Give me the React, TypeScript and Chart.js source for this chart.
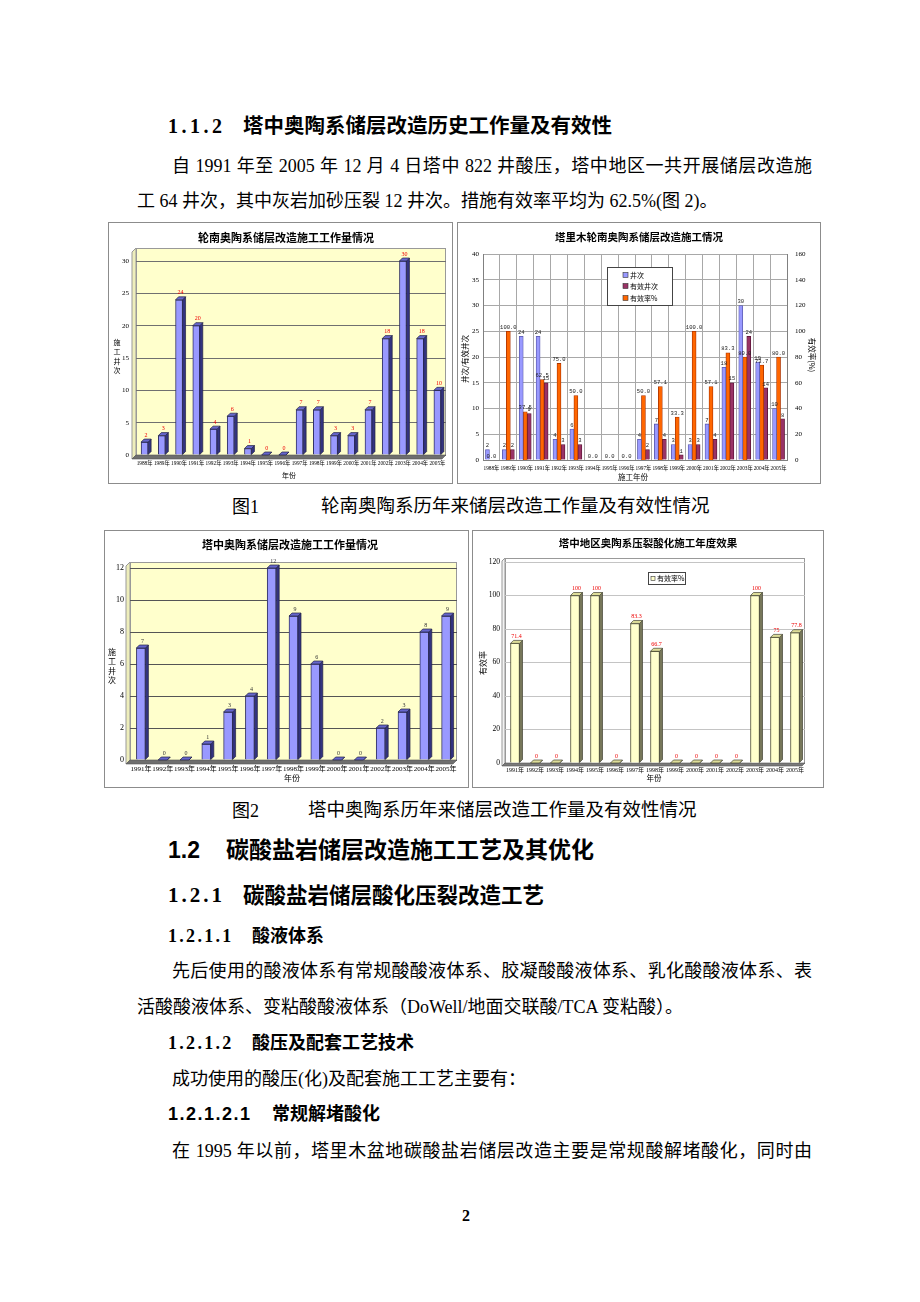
import React, { useEffect, useRef } from "react";
import { Chart, registerables } from "chart.js";

Chart.register(...registerables);

const SERIF = '"Liberation Serif", "Noto Sans CJK SC", serif';
const CJK = '"Noto Sans CJK SC", sans-serif';
const SANS = '"Liberation Sans", "Noto Sans CJK SC", sans-serif';
const MONO = '"Liberation Mono", "DejaVu Sans Mono", monospace';

// ---- Fig.1 left: 轮南奥陶系储层改造施工工作量情况
const lunnanYears = ["1988年", "1989年", "1990年", "1991年", "1992年", "1993年", "1994年", "1995年", "1996年", "1997年", "1998年", "1999年", "2000年", "2001年", "2002年", "2003年", "2004年", "2005年"];
const lunnanWells = [2, 3, 24, 20, 4, 6, 1, 0, 0, 7, 7, 3, 3, 7, 18, 30, 18, 10];

// ---- Fig.1 right: 塔里木轮南奥陶系储层改造施工情况
const tlmYears = ["1988年", "1989年", "1990年", "1991年", "1992年", "1993年", "1994年", "1995年", "1996年", "1997年", "1998年", "1999年", "2000年", "2001年", "2002年", "2003年", "2004年", "2005年"];
const tlmWells = [2, 2, 24, 24, 4, 6, 0, 0, 0, 4, 7, 3, 3, 7, 18, 30, 19, 10];
const tlmEffWells = [0, 2, 9, 15, 3, 3, 0, 0, 0, 2, 4, 1, 3, 4, 15, 24, 14, 8];
const tlmEffRate = [0, 100, 37.5, 62.5, 75, 50, 0, 0, 0, 50, 57.1, 33.3, 100, 57.1, 83.3, 80, 73.7, 80];
const tlmSeries = ["井次", "有效井次", "有效率%"];

// ---- Fig.2: 塔中
const tzYears = ["1991年", "1992年", "1993年", "1994年", "1995年", "1996年", "1997年", "1998年", "1999年", "2000年", "2001年", "2002年", "2003年", "2004年", "2005年"];
const tzWells = [7, 0, 0, 1, 3, 4, 12, 9, 6, 0, 0, 2, 3, 8, 9];
const tzEffRate = [71.4, 0, 0, 100, 100, 0, 83.3, 66.7, 0, 0, 0, 0, 100, 75, 77.8];
const tzEffName = "有效率%";

function font(size: number, family: string, bold = false) {
  return `${bold ? "bold " : ""}${size}px ${family}`;
}

function decor(cfg: any) {
  return {
    id: "decor",
    beforeDraw(chart: any) {
      const { ctx, width, height, chartArea: a } = chart;
      ctx.save();
      ctx.fillStyle = "#ffffff";
      ctx.fillRect(0, 0, width, height);
      ctx.strokeStyle = "#8c8c8c";
      ctx.lineWidth = 1;
      ctx.strokeRect(0.5, 0.5, width - 1, height - 1);
      if (cfg.wall) {
        const w = cfg.wall;
        const d = w.depth;
        const L = a.left, R = a.right, T = a.top - w.extraTop, B = a.bottom;
        ctx.fillStyle = w.fill;
        ctx.fillRect(L, T, R - L, B - T);
        ctx.beginPath();
        ctx.moveTo(L, T);
        ctx.lineTo(L - d, T + d);
        ctx.lineTo(L - d, B + d);
        ctx.lineTo(L, B);
        ctx.closePath();
        ctx.fillStyle = w.leftFill;
        ctx.fill();
        ctx.strokeStyle = w.stroke;
        ctx.stroke();
        ctx.strokeRect(Math.round(L) + 0.5, Math.round(T) + 0.5, R - L - 1, B - T);
      }
      ctx.restore();
    },
    beforeDatasetsDraw(chart: any) {
      if (!cfg.wall) return;
      const { ctx, chartArea: a } = chart;
      const d = cfg.wall.depth;
      const L = a.left, R = a.right, B = a.bottom;
      ctx.save();
      ctx.beginPath();
      ctx.moveTo(L, B);
      ctx.lineTo(R, B);
      ctx.lineTo(R - d, B + d);
      ctx.lineTo(L - d, B + d);
      ctx.closePath();
      ctx.fillStyle = cfg.wall.floorFill;
      ctx.fill();
      ctx.strokeStyle = "#555";
      ctx.lineWidth = 0.6;
      ctx.stroke();
      ctx.restore();
    },
    afterDatasetsDraw(chart: any) {
      const { ctx } = chart;
      ctx.save();
      const d3 = cfg.bars3d;
      if (d3) {
        const d = d3.depth;
        chart.data.datasets.forEach((_ds: any, i: number) => {
          const meta = chart.getDatasetMeta(i);
          meta.data.forEach((el: any) => {
            const x = el.x, y = el.y, base = el.base, w = el.width;
            const l = x - w / 2, r = x + w / 2;
            const top = Math.min(y, base);
            ctx.lineWidth = 0.7;
            ctx.strokeStyle = d3.edge;
            ctx.beginPath();
            ctx.moveTo(r, top);
            ctx.lineTo(r + d, top - d);
            ctx.lineTo(r + d, base - d);
            ctx.lineTo(r, base);
            ctx.closePath();
            ctx.fillStyle = d3.side;
            ctx.fill();
            ctx.stroke();
            ctx.beginPath();
            ctx.moveTo(l, top);
            ctx.lineTo(l + d, top - d);
            ctx.lineTo(r + d, top - d);
            ctx.lineTo(r, top);
            ctx.closePath();
            ctx.fillStyle = d3.top;
            ctx.fill();
            ctx.stroke();
          });
        });
      }
      const lb = cfg.labels;
      if (lb) {
        const d = d3 ? d3.depth : 0;
        ctx.font = font(lb.size, lb.family);
        ctx.fillStyle = lb.color;
        ctx.textAlign = "center";
        ctx.textBaseline = "bottom";
        chart.data.datasets.forEach((ds: any, i: number) => {
          const meta = chart.getDatasetMeta(i);
          meta.data.forEach((el: any, j: number) => {
            const txt = lb.fmt(ds.data[j], i);
            if (txt == null) return;
            const top = Math.min(el.y, el.base);
            ctx.fillText(txt, el.x + d / 2, top - d - 1);
          });
        });
      }
      ctx.restore();
    },
    afterDraw(chart: any) {
      const { ctx } = chart;
      ctx.save();
      (cfg.texts || []).forEach((t: any) => {
        ctx.save();
        ctx.translate(t.x, t.y);
        if (t.rot) ctx.rotate((t.rot * Math.PI) / 180);
        ctx.font = font(t.size, t.family || CJK, t.bold);
        ctx.fillStyle = t.color || "#000";
        ctx.textAlign = t.align || "center";
        ctx.textBaseline = "middle";
        ctx.fillText(t.t, 0, 0);
        ctx.restore();
      });
      const lg = cfg.legend;
      if (lg) {
        const [bx, by, bw, bh] = lg.box;
        ctx.fillStyle = "#fff";
        ctx.fillRect(bx, by, bw, bh);
        ctx.strokeStyle = "#444";
        ctx.lineWidth = 1;
        ctx.strokeRect(bx + 0.5, by + 0.5, bw, bh);
        ctx.font = font(lg.size, CJK);
        ctx.textAlign = "left";
        ctx.textBaseline = "middle";
        lg.items.forEach((it: any) => {
          ctx.fillStyle = it.color;
          ctx.fillRect(it.x, it.y - lg.mark / 2, lg.mark, lg.mark);
          ctx.strokeStyle = "#333";
          ctx.lineWidth = 0.6;
          ctx.strokeRect(it.x, it.y - lg.mark / 2, lg.mark, lg.mark);
          ctx.fillStyle = "#000";
          ctx.fillText(it.label, it.x + lg.mark + 2, it.y);
        });
      }
      ctx.restore();
    },
  };
}

const fmtNum = (v: number) => (Number.isInteger(v) ? String(v) : v.toFixed(1));

function makeLunnan(canvas: HTMLCanvasElement) {
  return new Chart(canvas, {
    type: "bar",
    data: {
      labels: lunnanYears,
      datasets: [{ data: lunnanWells, backgroundColor: "#9999ff", borderColor: "#333366", borderWidth: 1, barThickness: 7 }],
    },
    options: {
      responsive: false,
      animation: false,
      devicePixelRatio: 1,
      events: [],
      layout: { padding: { top: 39, right: 7, left: 0, bottom: 0 } },
      plugins: { legend: { display: false }, tooltip: { enabled: false } },
      scales: {
        x: {
          grid: { display: false, drawTicks: false },
          border: { display: false },
          ticks: { autoSkip: false, maxRotation: 0, minRotation: 0, padding: 5, color: "#000", font: { size: 5.3, family: SERIF } },
          afterFit: (s: any) => { s.height = 29; },
        },
        y: {
          min: 0,
          max: 30,
          grid: { color: "#707070", drawTicks: false },
          border: { display: false },
          ticks: { stepSize: 5, padding: 7, color: "#000", font: { size: 7, family: SERIF } },
          afterFit: (s: any) => { s.width = 28; },
        },
      },
    } as any,
    plugins: [
      decor({
        wall: { fill: "#ffffcc", leftFill: "#eeeebb", floorFill: "#6e6e6e", stroke: "#999", depth: 4, extraTop: 13 },
        bars3d: { depth: 3, side: "#333380", top: "#6666cc", edge: "#222244" },
        labels: { size: 6, family: SERIF, color: "#ee0000", fmt: (v: number) => fmtNum(v) },
        texts: [
          { t: "轮南奥陶系储层改造施工工作量情况", x: 178, y: 16, size: 11, bold: true },
          { t: "施", x: 9, y: 120, size: 7 },
          { t: "工", x: 9, y: 129, size: 7 },
          { t: "井", x: 9, y: 139, size: 7 },
          { t: "次", x: 9, y: 148, size: 7 },
          { t: "年份", x: 181, y: 253, size: 7 },
        ],
      }),
    ],
  });
}

function makeTlm(canvas: HTMLCanvasElement) {
  return new Chart(canvas, {
    type: "bar",
    data: {
      labels: tlmYears,
      datasets: [
        { label: tlmSeries[0], data: tlmWells, yAxisID: "y", order: 0, backgroundColor: "#9999ff", borderColor: "#5555aa", borderWidth: 0.8, barThickness: 4 },
        { label: tlmSeries[1], data: tlmEffWells, yAxisID: "y", order: 2, backgroundColor: "#993366", borderColor: "#551133", borderWidth: 0.8, barThickness: 4 },
        { label: tlmSeries[2], data: tlmEffRate, yAxisID: "y1", order: 1, backgroundColor: "#ff6600", borderColor: "#aa3300", borderWidth: 0.8, barThickness: 4 },
      ],
    },
    options: {
      responsive: false,
      animation: false,
      devicePixelRatio: 1,
      events: [],
      layout: { padding: { top: 32, right: 0, left: 0, bottom: 0 } },
      plugins: { legend: { display: false }, tooltip: { enabled: false } },
      scales: {
        x: {
          grid: { color: "#a8a8a8", drawTicks: false, offset: true },
          border: { display: true, color: "#808080" },
          ticks: { autoSkip: false, maxRotation: 0, minRotation: 0, padding: 5, color: "#000", font: { size: 5.3, family: SERIF } },
          afterFit: (s: any) => { s.height = 24; },
        },
        y: {
          position: "left",
          min: 0,
          max: 40,
          grid: { color: "#a8a8a8", drawTicks: false },
          border: { display: true, color: "#808080" },
          ticks: { stepSize: 5, padding: 4, color: "#000", font: { size: 7, family: SERIF } },
          afterFit: (s: any) => { s.width = 26; },
        },
        y1: {
          position: "right",
          min: 0,
          max: 160,
          grid: { display: false, drawTicks: false },
          border: { display: true, color: "#808080" },
          ticks: { stepSize: 20, padding: 8, color: "#000", font: { size: 7, family: SERIF } },
          afterFit: (s: any) => { s.width = 34; },
        },
      },
    } as any,
    plugins: [
      decor({
        labels: {
          size: 5.5,
          family: MONO,
          color: "#222",
          fmt: (v: number, ds: number) => (ds === 2 ? v.toFixed(1) : v === 0 ? null : String(v)),
        },
        texts: [
          { t: "塔里木轮南奥陶系储层改造施工情况", x: 182, y: 15, size: 10.5, bold: true },
          { t: "井次/有效井次", x: 8, y: 137, size: 7.5, rot: -90 },
          { t: "有效率(%)", x: 355, y: 133, size: 7.5, rot: 90 },
          { t: "施工年份", x: 176, y: 255, size: 7.5 },
        ],
        legend: {
          box: [150, 45, 65, 38],
          size: 7,
          mark: 5,
          items: [
            { label: tlmSeries[0], color: "#9999ff", x: 166, y: 53 },
            { label: tlmSeries[1], color: "#993366", x: 166, y: 64 },
            { label: tlmSeries[2], color: "#ff6600", x: 166, y: 76 },
          ],
        },
      }),
    ],
  });
}

function makeTz(canvas: HTMLCanvasElement) {
  return new Chart(canvas, {
    type: "bar",
    data: {
      labels: tzYears,
      datasets: [{ data: tzWells, backgroundColor: "#9999ff", borderColor: "#333366", borderWidth: 1, barThickness: 9 }],
    },
    options: {
      responsive: false,
      animation: false,
      devicePixelRatio: 1,
      events: [],
      layout: { padding: { top: 38, right: 12, left: 0, bottom: 0 } },
      plugins: { legend: { display: false }, tooltip: { enabled: false } },
      scales: {
        x: {
          grid: { display: false, drawTicks: false },
          border: { display: false },
          ticks: { autoSkip: false, maxRotation: 0, minRotation: 0, padding: 5, color: "#000", font: { size: 7, family: SERIF } },
          afterFit: (s: any) => { s.height = 28; },
        },
        y: {
          min: 0,
          max: 12,
          grid: { color: "#555", drawTicks: false },
          border: { display: false },
          ticks: { stepSize: 2, padding: 6, color: "#000", font: { size: 8, family: SERIF } },
          afterFit: (s: any) => { s.width = 26; },
        },
      },
    } as any,
    plugins: [
      decor({
        wall: { fill: "#ffffcc", leftFill: "#eeeebb", floorFill: "#6e6e6e", stroke: "#999", depth: 4, extraTop: 6 },
        bars3d: { depth: 3, side: "#333380", top: "#6666cc", edge: "#222244" },
        labels: { size: 6, family: SERIF, color: "#333", fmt: (v: number) => fmtNum(v) },
        texts: [
          { t: "塔中奥陶系储层改造施工工作量情况", x: 186, y: 15, size: 11, bold: true },
          { t: "施", x: 8, y: 122, size: 8 },
          { t: "工", x: 8, y: 131, size: 8 },
          { t: "井", x: 8, y: 141, size: 8 },
          { t: "次", x: 8, y: 150, size: 8 },
          { t: "年份", x: 188, y: 248, size: 8 },
        ],
      }),
    ],
  });
}

function makeTzEff(canvas: HTMLCanvasElement) {
  return new Chart(canvas, {
    type: "bar",
    data: {
      labels: tzYears,
      datasets: [{ label: tzEffName, data: tzEffRate, backgroundColor: "#ffffcc", borderColor: "#555533", borderWidth: 1, barThickness: 9 }],
    },
    options: {
      responsive: false,
      animation: false,
      devicePixelRatio: 1,
      events: [],
      layout: { padding: { top: 32, right: 19, left: 0, bottom: 0 } },
      plugins: { legend: { display: false }, tooltip: { enabled: false } },
      scales: {
        x: {
          grid: { display: false, drawTicks: false },
          border: { display: false },
          ticks: { autoSkip: false, maxRotation: 0, minRotation: 0, padding: 4, color: "#000", font: { size: 6, family: SERIF } },
          afterFit: (s: any) => { s.height = 25; },
        },
        y: {
          min: 0,
          max: 120,
          grid: { color: "#c4c4c4", drawTicks: false },
          border: { display: false },
          ticks: { stepSize: 20, padding: 5, color: "#000", font: { size: 7.5, family: SERIF } },
          afterFit: (s: any) => { s.width = 33; },
        },
      },
    } as any,
    plugins: [
      decor({
        wall: { fill: "#ffffff", leftFill: "#f2f2f2", floorFill: "#7a7a7a", stroke: "#999", depth: 3, extraTop: 4 },
        bars3d: { depth: 3, side: "#77775a", top: "#dddd99", edge: "#444433" },
        labels: { size: 6, family: SERIF, color: "#ee0000", fmt: (v: number) => fmtNum(v) },
        texts: [
          { t: "塔中地区奥陶系压裂酸化施工年度效果", x: 176, y: 13, size: 10.5, bold: true },
          { t: "有效率", x: 11, y: 133, size: 8, rot: -90 },
          { t: "年份", x: 182, y: 248, size: 7.5 },
        ],
        legend: {
          box: [176, 42, 37, 12],
          size: 7,
          mark: 4,
          items: [{ label: tzEffName, color: "#ffffcc", x: 179, y: 48.5 }],
        },
      }),
    ],
  });
}

function ChartCanvas({ x, y, w, h, make }: { x: number; y: number; w: number; h: number; make: (c: HTMLCanvasElement) => Chart }) {
  const ref = useRef<HTMLCanvasElement>(null);
  useEffect(() => {
    const chart = make(ref.current as HTMLCanvasElement);
    return () => chart.destroy();
  }, []);
  return (
    <div style={{ position: "absolute", left: x, top: y, width: w, height: h }}>
      <canvas ref={ref} width={w} height={h} style={{ display: "block", width: w, height: h }} />
    </div>
  );
}

function T({ x, y, size, family = SERIF, bold = false, width, justify = false, spacing = 0, children }: any) {
  const k = family === CJK ? 0.556 : 0.465;
  return (
    <div
      style={{
        position: "absolute",
        left: x,
        top: y - k * size,
        fontSize: size,
        lineHeight: `${size}px`,
        fontFamily: family,
        fontWeight: bold ? 700 : 400,
        whiteSpace: justify ? "normal" : "nowrap",
        width: width,
        textAlign: justify ? "justify" : "left",
        textAlignLast: justify ? "justify" : undefined,
        letterSpacing: spacing,
        color: "#000",
      } as any}
    >
      {children}
    </div>
  );
}

export default function App() {
  return (
    <div style={{ position: "absolute", left: 0, top: 0, width: 920, height: 1302, background: "#fff", overflow: "hidden" }}>
      <T x={168} y={125} size={20} bold spacing={3.5}>1.1.2</T>
      <T x={243} y={125} size={20.5} bold family={CJK}>塔中奥陶系储层改造历史工作量及有效性</T>
      <T x={172} y={165} size={18} justify width={640}>自 1991 年至 2005 年 12 月 4 日塔中 822 井酸压，塔中地区一共开展储层改造施</T>
      <T x={137} y={200} size={18}>工 64 井次，其中灰岩加砂压裂 12 井次。措施有效率平均为 62.5%(图 2)。</T>

      <ChartCanvas x={108} y={222} w={345} h={262} make={makeLunnan} />
      <ChartCanvas x={457} y={222} w={364} h={262} make={makeTlm} />

      <T x={232} y={506} size={18}>图1</T>
      <T x={321} y={506} size={18.5}>轮南奥陶系历年来储层改造工作量及有效性情况</T>

      <ChartCanvas x={104} y={530} w={365} h={258} make={makeTz} />
      <ChartCanvas x={472} y={530} w={352} h={258} make={makeTzEff} />

      <T x={232} y={810} size={18}>图2</T>
      <T x={308} y={810} size={18.5}>塔中奥陶系历年来储层改造工作量及有效性情况</T>

      <T x={168} y={850} size={23} bold family={SANS}>1.2</T>
      <T x={226} y={850} size={23} bold family={CJK}>碳酸盐岩储层改造施工工艺及其优化</T>
      <T x={168} y={895} size={21} bold spacing={3}>1.2.1</T>
      <T x={243} y={895} size={21.5} bold family={CJK}>碳酸盐岩储层酸化压裂改造工艺</T>
      <T x={168} y={935} size={18} bold spacing={2.3}>1.2.1.1</T>
      <T x={252} y={935} size={18} bold family={CJK}>酸液体系</T>
      <T x={172} y={970} size={18} justify width={640}>先后使用的酸液体系有常规酸酸液体系、胶凝酸酸液体系、乳化酸酸液体系、表</T>
      <T x={137} y={1006} size={18}>活酸酸液体系、变粘酸酸液体系（DoWell/地面交联酸/TCA 变粘酸）。</T>
      <T x={168} y={1042} size={18} bold spacing={2.3}>1.2.1.2</T>
      <T x={252} y={1042} size={18} bold family={CJK}>酸压及配套工艺技术</T>
      <T x={172} y={1078} size={18}>成功使用的酸压(化)及配套施工工艺主要有：</T>
      <T x={168} y={1113} size={18} bold family={SANS} spacing={1.5}>1.2.1.2.1</T>
      <T x={272} y={1113} size={18} bold family={CJK}>常规解堵酸化</T>
      <T x={172} y={1150} size={18} justify width={640}>在 1995 年以前，塔里木盆地碳酸盐岩储层改造主要是常规酸解堵酸化，同时由</T>
      <T x={462} y={1215} size={16} bold>2</T>
    </div>
  );
}
